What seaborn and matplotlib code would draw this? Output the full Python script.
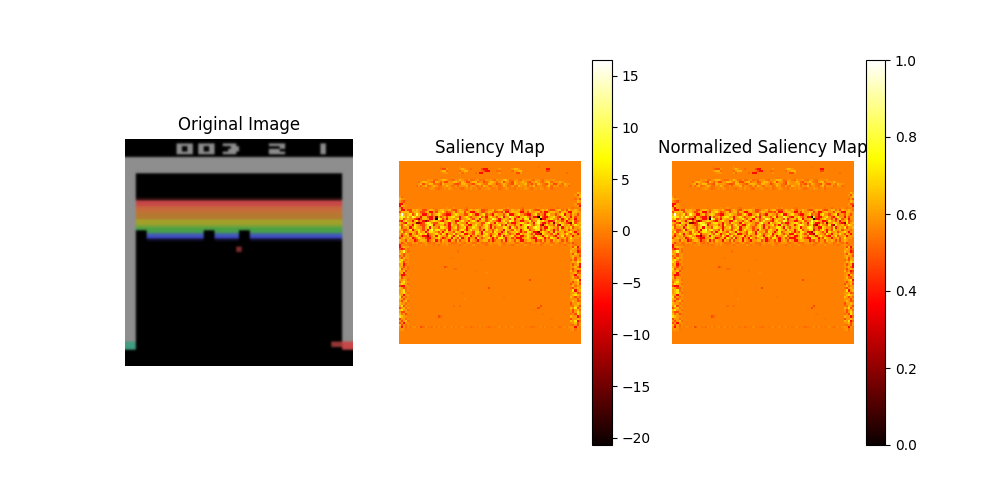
import numpy as np
import seaborn as sns
import matplotlib
matplotlib.use('Agg')
import matplotlib.pyplot as plt

# saliency levels
levels = {'k': -20.7, 'd': -13.0, 'r': -6.5, 'o': -3.0, '-': -1.2, 'n': -0.6, '.': 0.0,
          'p': 0.6, '+': 1.2, 'y': 3.0, 'Y': 5.5, 'w': 9.5, 'W': 16.5}

# rows 2 to 12 of the saliency map (band under the score)
top_rows = [
    '...................n........p...................................n...................',
    '...................-oo+.....+y+..-....orr.....+.....+yy+............rr..............',
    '...................+yy-.....-+yy......-orr...--.....-++yy...........oo..............',
    '....................p++.....+-p....-.rr.......+......poo+............p.......-......',
    '....................................................................................',
    '....................................................................................',
    '............n+p+--p+yy+n--+py+n-+--p+-n-+p+n-+p+yy+-np+n-+pp+n-++n-p+pp+............',
    '.........-+yy+p-oy+-+oo++yy+-y+oo+yy-p+o-+yy+-+yo++-oy+p+y+-o++y+n-+yy-p+py+........',
    '.........+yo++yy-n-oy++++-oo-yy+n-o+yy+n-yy+po-+y+n-oy+p++y-no+-y+n-oy+oo++-y++.....',
    '........-+-+y-n+y+--+py+-n+-p++y-p+n-+-y+n-+p+-ny+-n+n-y+p+-+py-p+n-+y-+p+-n++-.....',
    '............n.p+pn-n.p.+pn..n-.p.+.pn-p.p+.n.p-n.+pn.-p.p.+pn-.p.+pn.p-.............',
]

# rows 21 to 38, the strongly noisy band across the bricks
band_rows = [
    '+r+......p......n.....p..+....n-.....p..n.......p.+.....n-......p.....n..-....p.-...',
    'yrr+ooy+y++oo+yy+-+yy++y-oo+y+-o+y+yy+oo-++y-+yy-oo+y++y-o++y+-oo+y+y-oo+yy-+oy++y+-',
    'oyyyyo+yy+oo+yrr+oyyY+o-+yo+yyoy+rr+y+oo+yy+oo-oyrr+yyy+rr+oy++yyo+rr+yy++oyy+rryy++',
    'yWy+yYo+wy+rr+yo+yYy-orr+yYy++ooyY+rr+yYo+-ryy++oyYrr+yY++orr+yYo+-ryY++o+yYr++oy+o+',
    'YwY+Y+wY++ryyorr+Yyo+yoyYY++r+yY+o++yYo+ryY++oyYr++wY+oryyY+o+rryYorr+yY+oryY++ryo++',
    'yYo+y++ordoyy+rr+YwYo+ryy+yYr++yY+oyyrYyo++wY+r+yy+oYr+yyoYYr++yyYrr+yY++oyr+Yo+yr++',
    'oryY++ryYo+rdr+yYy+or+yY++rryY++oyY+r+yyo+Y++oryY++wYo++rr+yYo++wyY++rroY++oyr++Yo-+',
    'y+orYy++ddroYwY+ooyYY++ry+oYy++rY++yy+ooYw++rY++yYo+rr+yYY+oy+rYw+rr+oyd++Yy+ordYo+y',
    '+oyY++rYy+oo+YwYr++yyo+rY++oyY++rryY++oyY+r++yYo+rY++oyyr+YwY+oyYrd+Y++oYrdY++yo+Yy+',
    'Yo++yr+Yy++oyYrY++oYYy+r+yYo+yYr++Yy+o+yY+ryo+++YY+rY+oy+yYr++YwYo+rrYy++oYr+y+Yo++y',
    'y+oo+Yr+yY+oyrYw+YY++oYry++oyY+r+Y+yyo+rY++oyY++rYy+oY+yr+YYo++YYr+oyY+r+oY++yo+++-+',
    '+Yo++yy+oY+yr+YYy+oyryY++oYy+rY+y+oYY+rY++yoYy+r+Yo+yyY+r+oYY+rrd+Yy+oyrY++yo+yY+r++',
    'yo+Y+ry+oyYyYr++yY+oYyr++Yo+yYrr++oYy+ryY+o+yYr+yY+o+yrrY+yY+oyrrdYy++oY+ryy+Y+oy+r+',
    '+r++yo+yY++rrdo+yrYy++oY+ryYo++yYr+yo++Yy+ryY+oYr++yYo+yrr+Yy+oYy+ryY++ory+Yo++yr+++',
    'o+y++yro+Yy+orr++yY+ro+yrY+oYr+yr++rY+o+yY+r+oYY+r+yo+rrr+yY+orrYYyr+oYy+r++yo+Y+++.',
    'y++oy++ro+yy+r-+yr+oy++ry+oyo++yry+-r++yyo+r-++oyr+y+oy+rr+yy++r-oyo++oy+y+o+o+y+...',
    '+o.+-n+p+n-p+n-.-p+n+p+.-n-p+n-p+.-n+p-n-p+.+p+n-.+p+n-.+p-n-p+.+n-.+p-n+p-.+n-po...',
    'r+...-.n..p.+...n.-.p.+..n..-.p...+.n...-.p...+.n...-.p...+.n....-.p..+...n.-.p+.-..',
]

# left and right border columns for rows 39 to 78
left_edge = ['r+y++', 'oro+-', '+yw+-', 'y+op+', '-+o+p', '+oy++', 'yY+-p', 'Yyo+p', '+yr-p', 'y+o+-',
             'Yo+p-', 'y+yop', '+yr+.', '+rr-p', 'yo+p.', '+py+-', '-yY+p', '+Yy+-', 'orr+p', 'y+o-p',
             '+yY-p', '+yY+-', 'y+r++', 'Yo+-p', 'y+o+p', '+o+y-', 'y++-p', '+Yo+.', 'o+y-+', 'yY++-',
             '+oo+p', 'y-+o.', 'Yy+p.', 'o++-p', '+o+y-', 'o+r+p', 'yo+-p', '+r+-p', 'p+pn.', '.....']
right_edge = ['+oyr+', '+y+o-', 'y++ro', '+oy+-', '+y++o', 'pyo++', '-+oy+', 'py+Yy', '+o+yr', 'p+y-r',
              'po+y+', 'y-+ro', 'p+yo-', '++ry+', 'py-o+', '++yYr', 'po+y-', 'o+pyo', 'py-++', '-o+y+',
              'pYr+y', '++yo-', '+yYy+', 'y+o+-', '+p+o+', 'py+o-', 'o++y+', 'n-y+o', 'y+Yo+', '+o+y-',
              'po+Y+', '-poY+', 'y++r-', 'o++y+', 'y+Yr-', 'p+yo+', 'n-+o+', '+pr+.', 'p+-p.', '.....']

# left and right border columns for rows 13 to 20
left_edge_upper = ['.....', '.....', '.....', '+-...', 'y+p..', '+-o..', 'rr+..', 'ry+p.']
right_edge_upper = ['.....', '...y+', '..+oy', '...+y', '..-+o', '...y+', '..+oo', '..p+r']

# faint row just above the lower edge of the frame
lower_row = 'nppnpnopnn-pnpn.pn.pnpn.pnn.-n.npn.n-n.n.pn.pn.pn.n.pn.n-nn.pnpn.n.pn-.pnpn.ppnn'[:79]

# faint spots in the black playfield plus the extremes: row, column, level
spot_rows = [48, 48, 49, 49, 41, 54, 67, 66, 71, 71, 76, 76, 58, 66, 25, 26, 25, 26, 58, 66, 45, 62, 50, 44, 51, 60, 70, 72, 68, 63]
spot_cols = [21, 22, 25, 26, 27, 60, 64, 28, 18, 19, 10, 11, 41, 25, 64, 65, 17, 17, 38, 65, 38, 48, 35, 24, 40, 29, 66, 70, 62, 30]
spot_vals = ['o', '-', '-', '-', '-', 'o', 'o', '-', 'o', '-', 'o', '-', 'o', '-', 'k', 'k', 'd', 'k', 'n', 'o', 'n', 'n', 'n', 'n', 'p', 'n', 'n', 'n', 'n', 'p']

# frame layout
frame_size = 84
wall_gray = (142, 142, 142)
brick_rows = list(range(22, 38))
brick_colors = [(40, 14, 14), (200, 72, 72), (200, 72, 72), (199, 100, 62),
                (198, 108, 58), (190, 116, 52), (180, 122, 48), (180, 122, 48),
                (162, 162, 42), (162, 162, 42), (120, 162, 56), (72, 160, 72),
                (72, 160, 72), (66, 100, 170), (66, 72, 200), (13, 14, 40)]
blue_gaps = [(4, 8), (29, 33), (42, 46)]
score_digits = {
    '0': ['######', '##..##', '##..##', '######'],
    '3': ['#####.', '...###', '..####', '#####.'],
    '2': ['######', '....##', '####..', '######'],
    '1': ['##', '##', '##', '##'],
}
score_text = ['0', '0', '3', '2', '1']
score_cols = [19, 27, 36, 53, 72]


def build_saliency():
    '''Puts the read rows into one 84x84 table'''
    grid = np.zeros((frame_size, frame_size))
    for i, row in enumerate(top_rows):
        grid[2 + i] = [levels[c] for c in row.ljust(84, '.')[:84]]
    for i, row in enumerate(band_rows):
        grid[21 + i] = [levels[c] for c in row.ljust(84, '.')[:84]]
    grid[76, 5:84] = [levels[c] for c in lower_row]
    for i in range(len(left_edge_upper)):
        grid[13 + i, :5] = [levels[c] for c in left_edge_upper[i]]
        grid[13 + i, 79:] = [levels[c] for c in right_edge_upper[i]]
    for i in range(len(left_edge)):
        grid[39 + i, :5] = [levels[c] for c in left_edge[i]]
        grid[39 + i, 79:] = [levels[c] for c in right_edge[i]]
    for r, c, v in zip(spot_rows, spot_cols, spot_vals):
        grid[r, c] = levels[v]
    return grid


def build_frame():
    '''Draws the game frame into an RGB array'''
    frame = np.zeros((frame_size, frame_size, 3), dtype=np.uint8)
    frame[7:13] = wall_gray
    frame[13:75, :4] = wall_gray
    frame[13:75, 80:] = wall_gray
    for r, color in zip(brick_rows, brick_colors):
        frame[r, 4:80] = color
    for start, stop in blue_gaps:
        frame[34:38, start:stop] = 0
    frame[40:42, 41:43] = (130, 45, 45)
    frame[75:78, :4] = (66, 158, 130)
    frame[75:78, 80:] = (200, 72, 72)
    frame[75:77, 76:80] = (150, 55, 55)
    for digit, col in zip(score_text, score_cols):
        for i, line in enumerate(score_digits[digit]):
            for j, c in enumerate(line):
                if c == '#':
                    frame[2 + i, col + j] = wall_gray
    return frame


def saliency_panel(ax, grid, title, ticks):
    '''Plots one saliency heatmap with its colorbar'''
    sns.heatmap(grid, ax=ax, cmap='hot', square=True, xticklabels=False, yticklabels=False,
                vmin=grid.min(), vmax=grid.max(), cbar_kws={'ticks': ticks})
    ax.collections[0].colorbar.outline.set_linewidth(0.8)
    ax.set_title(title)
    ax.axis('off')


saliency = build_saliency()
normalized = (saliency - saliency.min()) / (saliency.max() - saliency.min())

fig = plt.figure(figsize=(10, 5))

ax1 = plt.subplot(1, 3, 1)
ax1.imshow(build_frame(), interpolation='gaussian')
ax1.set_title('Original Image')
ax1.axis('off')

ax2 = plt.subplot(1, 3, 2)
saliency_panel(ax2, saliency, 'Saliency Map', list(range(-20, 20, 5)))

ax3 = plt.subplot(1, 3, 3)
saliency_panel(ax3, normalized, 'Normalized Saliency Map', [0, 0.2, 0.4, 0.6, 0.8, 1.0])

plt.savefig('out.png', dpi=100)
